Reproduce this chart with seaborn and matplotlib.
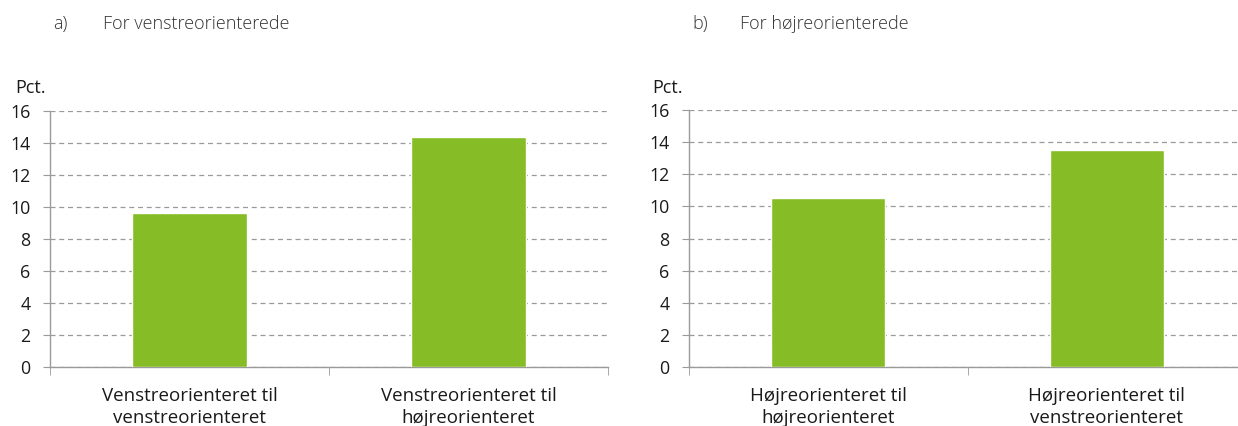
import pandas as pd
import seaborn as sns
import matplotlib.pyplot as plt

# Data
left_labels = ["Venstreorienteret til\nvenstreorienteret", "Venstreorienteret til\nhøjreorienteret"]
left_values = [9.6, 14.4]
right_labels = ["Højreorienteret til\nhøjreorienteret", "Højreorienteret til\nvenstreorienteret"]
right_values = [10.5, 13.5]
y_ticks = [0, 2, 4, 6, 8, 10, 12, 14, 16]

bar_color = "#86BC25"
grid_color = "#9a9a9a"
text_color = "#1a1a1a"

sns.set_style("white")
plt.rcParams["font.family"] = ["Open Sans", "DejaVu Sans"]

fig = plt.figure(figsize=(12.38, 4.26), dpi=100)
W, H = 1238, 426


def make_axes(x0, x1, y_top, y_bot):
    return fig.add_axes([x0 / W, 1 - y_bot / H, (x1 - x0) / W, (y_bot - y_top) / H])


def draw_panel(ax, labels, values):
    df = pd.DataFrame({"cat": labels, "val": values})
    sns.barplot(data=df, x="cat", y="val", color=bar_color, width=0.41,
                saturation=1, ax=ax, zorder=3)
    ax.set_ylim(0, 16)
    ax.set_xlim(-0.5, 1.5)
    ax.set_yticks(y_ticks)
    ax.set_xlabel("")
    ax.set_ylabel("")
    ax.yaxis.grid(True, linestyle=(0, (4, 3)), color=grid_color, linewidth=0.9, zorder=0)
    ax.xaxis.grid(False)
    for s in ["top", "right"]:
        ax.spines[s].set_visible(False)
    for s in ["left", "bottom"]:
        ax.spines[s].set_color(grid_color)
        ax.spines[s].set_linewidth(1.0)
    ax.tick_params(axis="y", which="major", left=True, length=5, color=grid_color,
                   labelsize=12.8, labelcolor=text_color, pad=9)
    ax.set_xticks([-0.5, 0.5, 1.5], minor=True)
    ax.tick_params(axis="x", which="minor", bottom=True, length=6, color=grid_color)
    ax.tick_params(axis="x", which="major", bottom=False, labelsize=13.5,
                   labelcolor=text_color, pad=11)
    for lbl in ax.get_xticklabels():
        lbl.set_linespacing(1.25)
    ax.set_axisbelow(True)


ax1 = make_axes(50, 608, 111, 367)
draw_panel(ax1, left_labels, left_values)
ax2 = make_axes(689, 1246, 110, 367)
draw_panel(ax2, right_labels, right_values)

# Panel headings and unit labels
head = dict(fontsize=13, color="#333333", va="center", fontweight="light")
fig.text(53 / W, 1 - 24 / H, "a)", **head)
fig.text(103 / W, 1 - 24 / H, "For venstreorienterede", **head)
fig.text(692 / W, 1 - 24 / H, "b)", **head)
fig.text(740 / W, 1 - 24 / H, "For højreorienterede", **head)
fig.text(15 / W, 1 - 88 / H, "Pct.", fontsize=13, color=text_color, va="center")
fig.text(652 / W, 1 - 88 / H, "Pct.", fontsize=13, color=text_color, va="center")

fig.savefig("out.png", dpi=100)
